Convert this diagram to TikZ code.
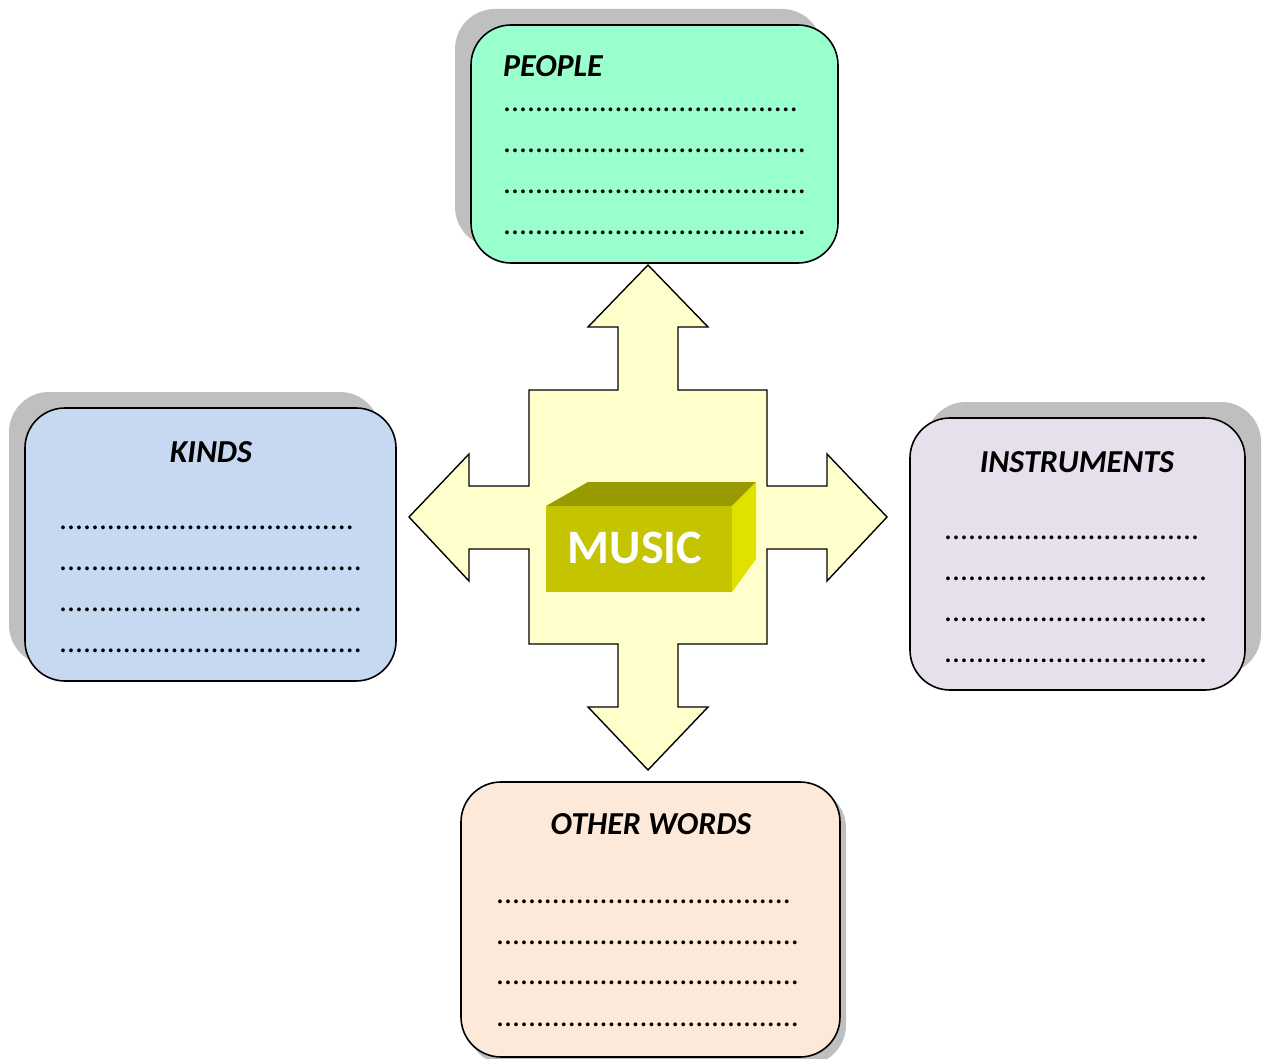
\documentclass[tikz,border=0pt]{standalone}
\usepackage{fontspec}
\setmainfont{Carlito}
\begin{document}
\begin{tikzpicture}[x=1pt,y=-1pt,
  boxshape/.style={draw=black, line width=1.6pt, rounded corners=40pt, inner sep=0pt},
  titletext/.style={font=\fontsize{32}{38}\selectfont\bfseries\itshape, inner sep=0pt, anchor=base},
  dottext/.style={font=\fontsize{31.6}{38}\selectfont, inner sep=0pt, anchor=base west},
  crossfill/.style={fill=crossyellow, draw=black, line width=1.4pt, line join=miter}
]
\definecolor{shadowgray}{HTML}{BFBFBF}
\definecolor{peoplegreen}{HTML}{99FFCC}
\definecolor{kindsblue}{HTML}{C6D9F1}
\definecolor{instrlilac}{HTML}{E5E0EC}
\definecolor{otherpeach}{HTML}{FDE9D9}
\definecolor{crossyellow}{HTML}{FFFFCC}
\definecolor{musicfront}{HTML}{C4C400}
\definecolor{musictop}{HTML}{999900}
\definecolor{musicside}{HTML}{E1E100}
\useasboundingbox (0,0) rectangle (1263,1059);
\clip (0,0) rectangle (1263,1059);

% shadows
\fill[shadowgray, rounded corners=40pt] (455,9) rectangle (822,247);
\fill[shadowgray, rounded corners=40pt] (9,392) rectangle (380,665);
\fill[shadowgray, rounded corners=40pt] (926,402) rectangle (1261,674);
\fill[shadowgray, rounded corners=40pt] (467,788) rectangle (846,1065);

% boxes
\node[boxshape, fill=peoplegreen, minimum width=367pt, minimum height=238pt] (people) at (654.5,144) {};
\node[boxshape, fill=kindsblue, minimum width=371pt, minimum height=273pt] (kinds) at (210.5,544.5) {};
\node[boxshape, fill=instrlilac, minimum width=335pt, minimum height=272pt] (instr) at (1077.5,554) {};
\node[boxshape, fill=otherpeach, minimum width=379pt, minimum height=275pt] (other) at (650.5,919.5) {};

% PEOPLE texts
\node[titletext, anchor=base west] (ptitle) at (503,77) {PEOPLE};
\node[dottext] (p1) at (503,112) {.....................................};
\node[dottext] (p2) at (503,153) {......................................};
\node[dottext] (p3) at (503,194) {......................................};
\node[dottext] (p4) at (503,235) {......................................};

% KINDS texts
\node[titletext] (ktitle) at (211,462) {KINDS};
\node[dottext] (k1) at (59,529) {.....................................};
\node[dottext] (k2) at (59,570) {......................................};
\node[dottext] (k3) at (59,611) {......................................};
\node[dottext] (k4) at (59,652) {......................................};

% INSTRUMENTS texts
\node[titletext] (ititle) at (1077,472) {INSTRUMENTS};
\node[dottext] (i1) at (944,539) {................................};
\node[dottext] (i2) at (944,580) {.................................};
\node[dottext] (i3) at (944,621) {.................................};
\node[dottext] (i4) at (944,662) {.................................};

% OTHER WORDS texts
\node[titletext] (otitle) at (651,834) {OTHER WORDS};
\node[dottext] (o1) at (496,903) {.....................................};
\node[dottext] (o2) at (496,944) {......................................};
\node[dottext] (o3) at (496,984) {......................................};
\node[dottext] (o4) at (496,1026) {......................................};

% four-way arrow
\draw[crossfill]
  (648,265) -- (708,327) -- (678,327) -- (678,390) -- (767,390) -- (767,486)
  -- (827,486) -- (827,454) -- (887,517) -- (827,581) -- (827,549) -- (767,549)
  -- (767,644) -- (678,644) -- (678,707) -- (708,707) -- (648,770) -- (588,707)
  -- (618,707) -- (618,644) -- (529,644) -- (529,549) -- (469,549) -- (469,581)
  -- (409,517) -- (469,454) -- (469,486) -- (529,486) -- (529,390) -- (618,390)
  -- (618,327) -- (588,327) -- cycle;

% MUSIC block
\fill[musictop] (546,506) -- (588,482) -- (756,482) -- (732,506) -- cycle;
\fill[musicside] (732,506) -- (756,482) -- (756,559) -- (732,592) -- cycle;
\fill[musicfront] (546,506) rectangle (732,592);
\node[font=\fontsize{48}{52}\selectfont\bfseries, text=white, inner sep=0pt, anchor=base] (music) at (635,563) {MUSIC};
\end{tikzpicture}
\end{document}
